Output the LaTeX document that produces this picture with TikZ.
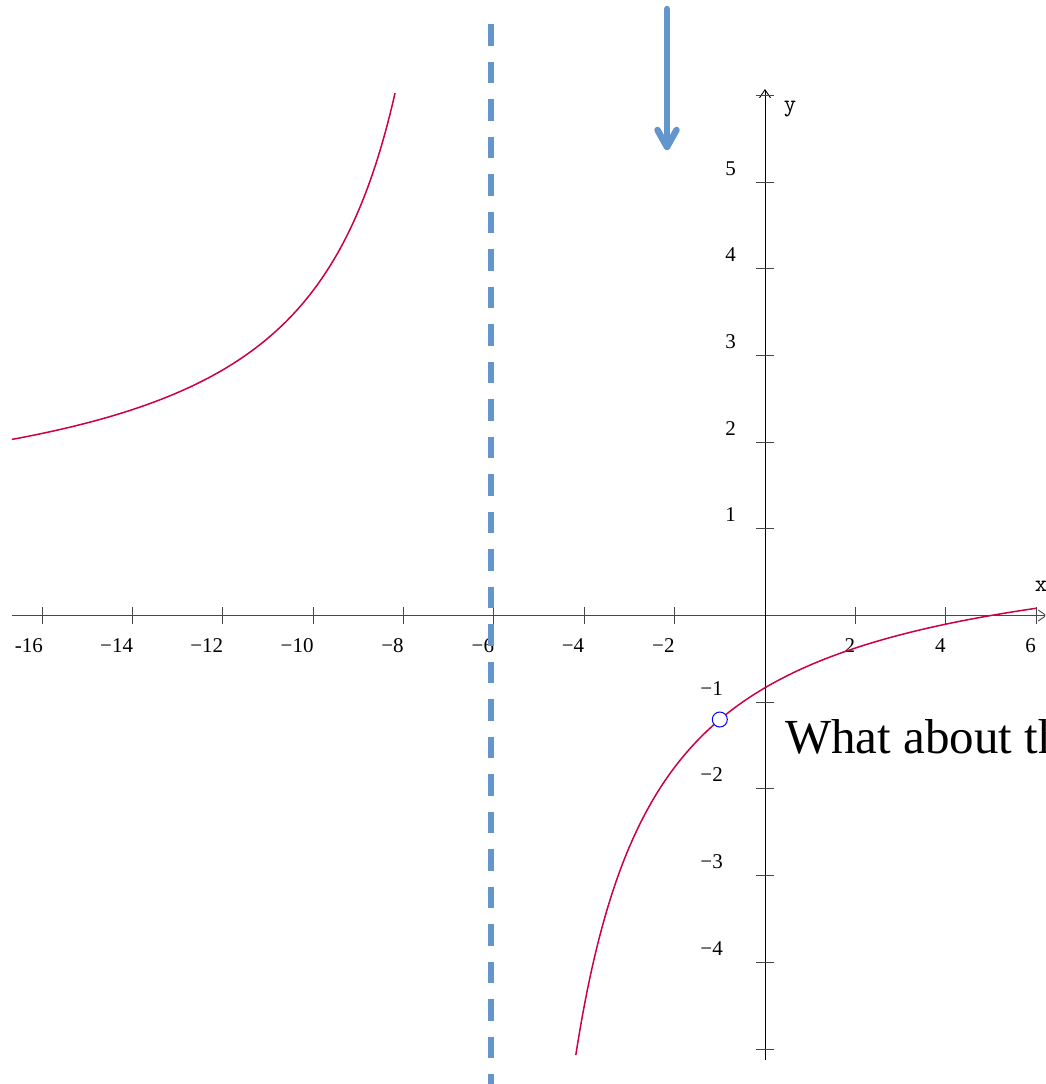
\documentclass[tikz,border=0pt]{standalone}
\usepackage{fontspec}
\setmainfont{Liberation Serif}
\usetikzlibrary{arrows.meta}
\definecolor{curvecol}{RGB}{204,0,68}
\definecolor{asymcol}{RGB}{98,150,205}
\definecolor{holecol}{RGB}{0,0,255}
\definecolor{axiscol}{RGB}{70,70,70}
\begin{document}
\begin{tikzpicture}[x=1pt,y=-1pt,
  axisline/.style={draw=axiscol,line width=0.9pt},
  tickmark/.style={draw=axiscol,line width=0.9pt},
  ticklbl/.style={inner sep=0pt,font=\fontsize{21}{21}\selectfont},
  axlbl/.style={inner sep=0pt,font=\ttfamily\fontsize{24}{24}\selectfont},
  graphcurve/.style={draw=curvecol,line width=1.5pt},
  asymline/.style={draw=asymcol,line width=5.5pt,dash pattern=on 21.5pt off 16pt},
  bluearrow/.style={draw=asymcol,line width=6.5pt,line cap=round,line join=round},
  holemark/.style={circle,draw=holecol,fill=white,line width=1pt,minimum size=15pt,inner sep=0pt},
  bigtext/.style={inner sep=0pt,font=\fontsize{49}{49}\selectfont}]
\useasboundingbox (0,0) rectangle (1045,1084);
\clip (0,0) rectangle (1045,1084);
% axes
\coordinate (xs) at (12,615.5);
\coordinate (xe) at (1047,615.5);
\coordinate (ys) at (765,1060);
\coordinate (ye) at (765,89);
\draw[axisline,-{Straight Barb[length=8pt,width=11pt]}] (xs) -- (xe);
\draw[line width=0.9pt,black,-{Straight Barb[length=8pt,width=11pt]}] (ys) -- (ye);
% x ticks
\foreach \k in {-16,-14,-12,-10,-8,-6,-4,-2,2,4,6}
  \draw[tickmark] ({765+45.18*\k},607) -- ({765+45.18*\k},624);
% y ticks
\foreach \k in {-5,-4,-3,-2,-1,1,2,3,4,5,6}
  \draw[tickmark] (756,{615.5-86.7*\k}) -- (774,{615.5-86.7*\k});
% x tick labels
\node[ticklbl,anchor=base east] (xm16) at (43.0,652) {-16};
\node[ticklbl,anchor=base east] (xm14) at (133.2,652) {−14};
\node[ticklbl,anchor=base east] (xm12) at (223.4,652) {−12};
\node[ticklbl,anchor=base east] (xm10) at (313.7,652) {−10};
\node[ticklbl,anchor=base east] (xm8) at (403.9,652) {−8};
\node[ticklbl,anchor=base east] (xm6) at (494.2,652) {−6};
\node[ticklbl,anchor=base east] (xm4) at (584.4,652) {−4};
\node[ticklbl,anchor=base east] (xm2) at (674.7,652) {−2};
\node[ticklbl,anchor=base east] (xp2) at (855.4,652) {2};
\node[ticklbl,anchor=base east] (xp4) at (945.7,652) {4};
\node[ticklbl,anchor=base east] (xp6) at (1036.0,652) {6};
% y tick labels
\node[ticklbl,anchor=base east] (yp1) at (736,521.8) {1};
\node[ticklbl,anchor=base east] (yp2) at (736,435.1) {2};
\node[ticklbl,anchor=base east] (yp3) at (736,348.4) {3};
\node[ticklbl,anchor=base east] (yp4) at (736,261.7) {4};
\node[ticklbl,anchor=base east] (yp5) at (736,175.0) {5};
\node[ticklbl,anchor=base east] (ym1) at (723,695.2) {−1};
\node[ticklbl,anchor=base east] (ym2) at (723,781.9) {−2};
\node[ticklbl,anchor=base east] (ym3) at (723,868.6) {−3};
\node[ticklbl,anchor=base east] (ym4) at (723,955.3) {−4};
% axis names
\node[axlbl] (ylab) at (790,109) {y};
\node[axlbl] (xlab) at (1041,586) {x};
% vertical asymptote
\coordinate (as) at (491,24);
\coordinate (ae) at (491,1100);
\draw[asymline] (as) -- (ae);
% curve
\draw[graphcurve] plot[domain=-16.67:-8.187,samples=200,variable=\t]
  ({765+45.18*\t},{615.5-86.7*(1-11/(\t+6))});
\draw[graphcurve] plot[domain=-4.188:6,samples=200,variable=\t]
  ({765+45.18*\t},{615.5-86.7*(1-11/(\t+6))});
% hole
\node[holemark] (hole) at (719.8,719.5) {};
% blue arrow
\coordinate (arrtop) at (667,9);
\coordinate (arrtip) at (667,147);
\draw[bluearrow] (arrtop) -- (arrtip);
\draw[bluearrow] ([shift={(-9.5,-17)}]arrtip) -- (arrtip) -- ([shift={(9.5,-17)}]arrtip);
% text
\node[bigtext,anchor=base west] (question) at (785,753) {What about th};
\end{tikzpicture}
\end{document}
